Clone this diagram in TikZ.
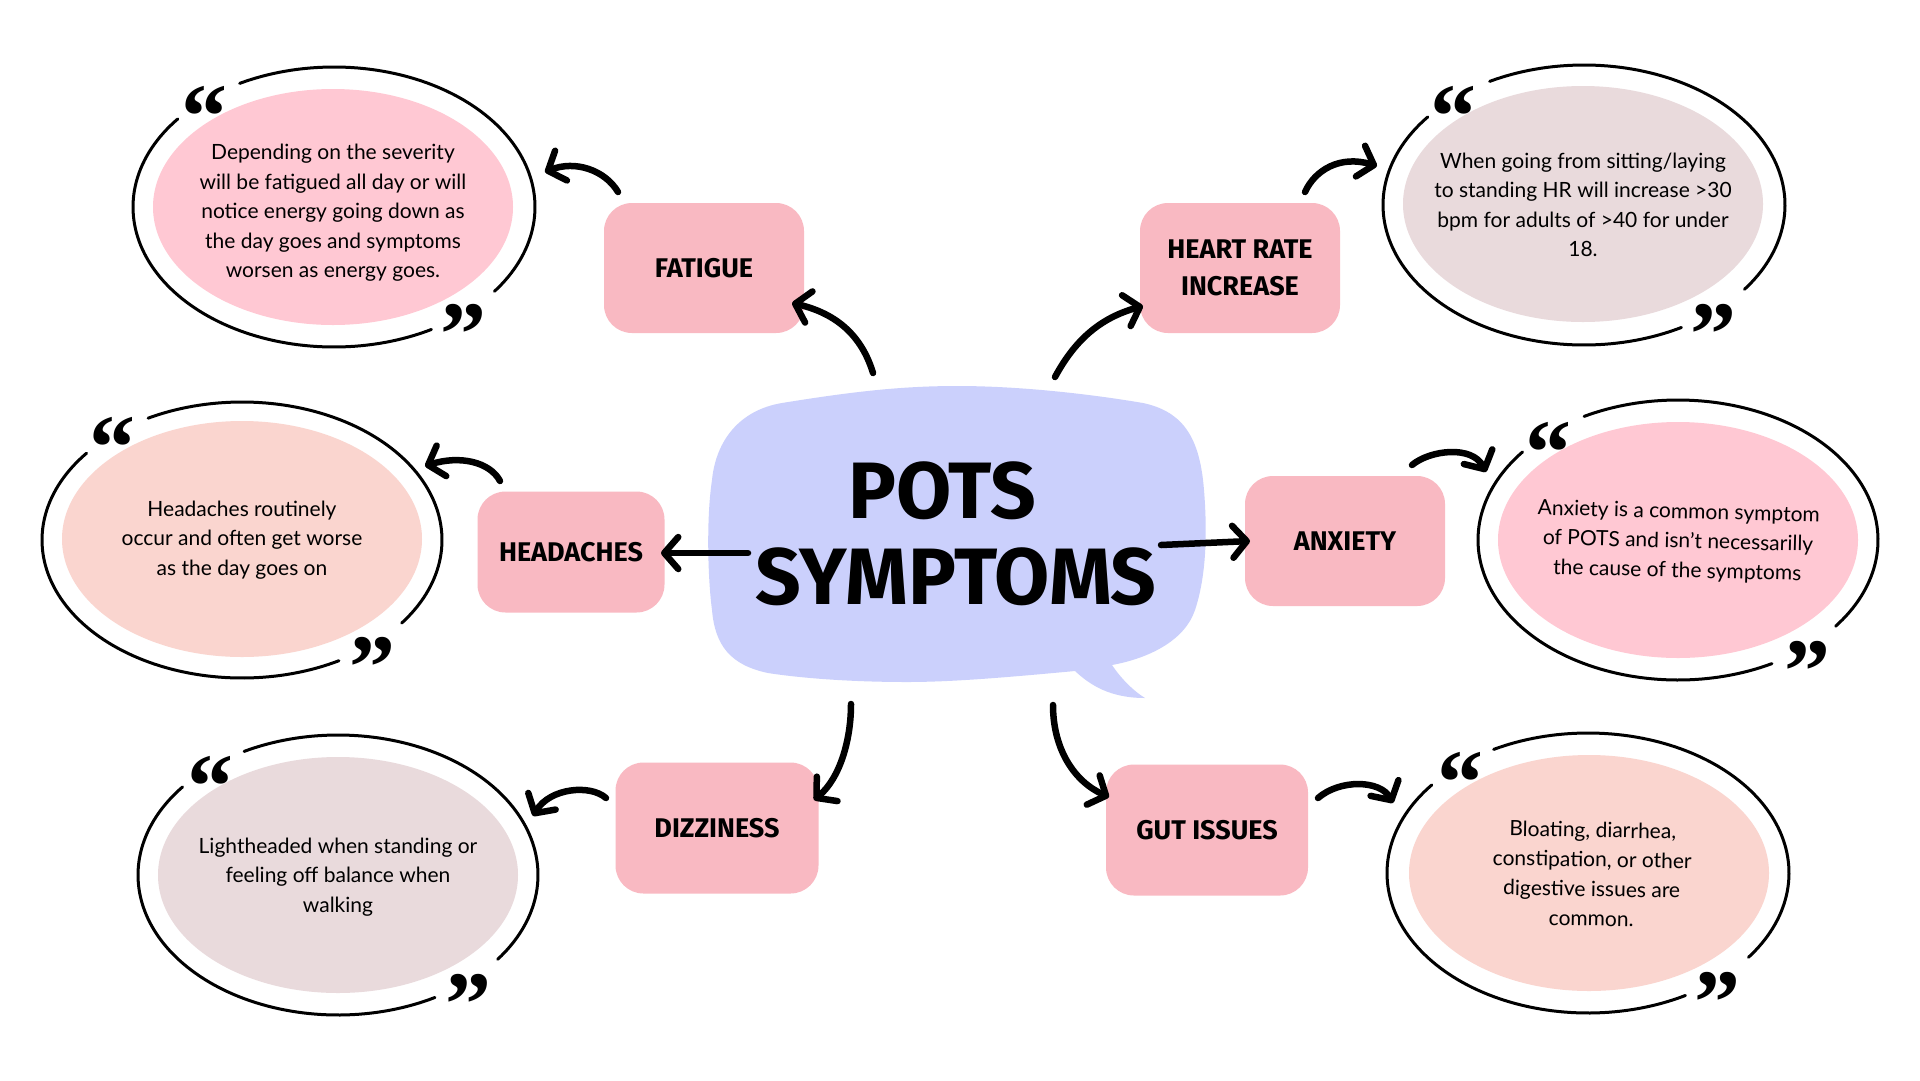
\documentclass[tikz,border=0pt]{standalone}
\usepackage{fontspec}
\setmainfont{Lato}
\newfontfamily\labelfont{Fira Sans}
\newfontfamily\quotefont{Liberation Serif}
\usetikzlibrary{arrows.meta,shapes.geometric}
\definecolor{bubble}{HTML}{CBD0FC}
\definecolor{boxpink}{HTML}{F9B9C2}
\definecolor{elpink}{HTML}{FFC8D3}
\definecolor{elgrey}{HTML}{E9DADC}
\definecolor{elpeach}{HTML}{FAD5CF}
\begin{document}
\begin{tikzpicture}[x=1pt,y=-1pt,
  bx/.style={fill=boxpink, rounded corners=28pt, inner sep=0pt, align=center,
    font=\labelfont\bfseries\fontsize{27}{37}\selectfont},
  fillell/.style={ellipse, inner sep=0pt, minimum width=360pt, minimum height=236pt},
  bodytext/.style={align=center, inner sep=0pt, font=\fontsize{21}{29.5}\selectfont},
  arr/.style={line width=6.5pt, line cap=round, line join=round,
    -{Straight Barb[length=14pt,width=32pt,round]}},
  ring/.style={line width=3pt, line cap=round},
  qmark/.style={font=\quotefont\bfseries\fontsize{92}{92}\selectfont, inner sep=0pt, anchor=base},
  title/.style={font=\labelfont\bfseries\fontsize{80}{80}\selectfont, inner sep=0pt}
]
\useasboundingbox[fill=white] (0,0) rectangle (1920,1080);

% ---------- central speech bubble ----------
\fill[bubble] (782,403) .. controls (850,392) and (900,386) .. (957,386)
  .. controls (1020,386) and (1090,394) .. (1143,403)
  .. controls (1185,412) and (1200,440) .. (1204,490)
  .. controls (1208,540) and (1205,580) .. (1195,610)
  .. controls (1185,640) and (1150,658) .. (1112,665)
  .. controls (1122,680) and (1135,692) .. (1145,698)
  .. controls (1110,698) and (1090,685) .. (1075,671)
  .. controls (1000,678) and (950,682) .. (907,682)
  .. controls (850,682) and (800,678) .. (768,673)
  .. controls (730,665) and (715,645) .. (712,610)
  .. controls (708,580) and (706,520) .. (712,480)
  .. controls (716,440) and (740,410) .. (782,403) -- cycle;
\node[title] (pots) at (942,491) {POTS};
\node[title] (symp) at (956,577) {SYMPTOMS};

% ---------- symptom boxes ----------
\node[bx, minimum width=200pt, minimum height=130pt] (fat) at (704,268) {FATIGUE};
\node[bx, minimum width=200pt, minimum height=130pt] (hr) at (1240,268) {HEART RATE\\INCREASE};
\node[bx, minimum width=200pt, minimum height=130pt] (anx) at (1345,541) {ANXIETY};
\node[bx, minimum width=187pt, minimum height=121pt] (head) at (571,552) {HEADACHES};
\node[bx, minimum width=203pt, minimum height=131pt] (diz) at (717,828) {DIZZINESS};
\node[bx, minimum width=202pt, minimum height=131pt] (gut) at (1207,830) {GUT ISSUES};

% ---------- description ellipses ----------
\node[fillell, fill=elpink] (fatE) at (333,207) {};
\node[bodytext] (fatT) at (333,213) {Depending on the severity\\will be fatigued all day or will\\notice energy going down as\\the day goes and symptoms\\worsen as energy goes.};
\draw[ring] plot[domain=-37:118, samples=90] ({334+201*cos(\x)},{207-140*sin(\x)});
\draw[ring] plot[domain=141:299, samples=90] ({334+201*cos(\x)},{207-140*sin(\x)});
\node[qmark] (fatQ1) at (204,147) {“};
\node[qmark] (fatQ2) at (463,365) {”};

\node[fillell, fill=elgrey] (hrE) at (1583,204) {};
\node[bodytext] (hrT) at (1583,205) {When going from sitting/laying\\to standing HR will increase >30\\bpm for adults of >40 for under\\18.};
\draw[ring] plot[domain=-37:118, samples=90] ({1584+201*cos(\x)},{205-140*sin(\x)});
\draw[ring] plot[domain=141:299, samples=90] ({1584+201*cos(\x)},{205-140*sin(\x)});
\node[qmark] (hrQ1) at (1453,147) {“};
\node[qmark] (hrQ2) at (1713,365) {”};

\node[fillell, fill=elpeach] (headE) at (242,539) {};
\node[bodytext] (headT) at (242,540) {Headaches routinely\\occur and often get worse\\as the day goes on};
\draw[ring] plot[domain=-37:118, samples=90] ({242+200*cos(\x)},{540-138*sin(\x)});
\draw[ring] plot[domain=141:299, samples=90] ({242+200*cos(\x)},{540-138*sin(\x)});
\node[qmark] (headQ1) at (112,478) {“};
\node[qmark] (headQ2) at (372,698) {”};

\node[fillell, fill=elpink] (anxE) at (1678,540) {};
\node[bodytext, rotate=-1.5] (anxT) at (1678,542) {Anxiety is a common symptom\\of POTS and isn’t necessarilly\\the cause of the symptoms};
\draw[ring] plot[domain=-38:118, samples=90] ({1678+200*cos(\x)},{540-140*sin(\x)});
\draw[ring] plot[domain=141:298, samples=90] ({1678+200*cos(\x)},{540-140*sin(\x)});
\node[qmark] (anxQ1) at (1548,483) {“};
\node[qmark] (anxQ2) at (1807,702) {”};

\node[fillell, fill=elgrey] (dizE) at (338,875) {};
\node[bodytext] (dizT) at (338,877) {Lightheaded when standing or\\feeling off balance when\\walking};
\draw[ring] plot[domain=-37:118, samples=90] ({338+200*cos(\x)},{875-140*sin(\x)});
\draw[ring] plot[domain=141:299, samples=90] ({338+200*cos(\x)},{875-140*sin(\x)});
\node[qmark] (dizQ1) at (210,817) {“};
\node[qmark] (dizQ2) at (468,1035) {”};

\node[fillell, fill=elpeach] (gutE) at (1589,873) {};
\node[bodytext, rotate=-1] (gutT) at (1592,874) {Bloating, diarrhea,\\constipation, or other\\digestive issues are\\common.};
\draw[ring] plot[domain=-37:118, samples=90] ({1588+201*cos(\x)},{873-140*sin(\x)});
\draw[ring] plot[domain=141:299, samples=90] ({1588+201*cos(\x)},{873-140*sin(\x)});
\node[qmark] (gutQ1) at (1460,813) {“};
\node[qmark] (gutQ2) at (1717,1033) {”};

% ---------- connector end points ----------
\coordinate (c1s) at (873,373);  \coordinate (c1e) at (792,303);
\coordinate (c2s) at (618,192);  \coordinate (c2e) at (545,172);
\coordinate (c3s) at (1055,377); \coordinate (c3e) at (1143,306);
\coordinate (c4s) at (1305,192); \coordinate (c4e) at (1377,166);
\coordinate (c5s) at (748,553);  \coordinate (c5e) at (661,553);
\coordinate (c6s) at (500,481);  \coordinate (c6e) at (425,466);
\coordinate (c7s) at (1161,545); \coordinate (c7e) at (1250,541);
\coordinate (c8s) at (1412,465); \coordinate (c8e) at (1486,472);
\coordinate (c9s) at (851,704);  \coordinate (c9e) at (814,800);
\coordinate (c10s) at (606,798); \coordinate (c10e) at (533,816);
\coordinate (c11s) at (1053,705);\coordinate (c11e) at (1109,797);
\coordinate (c12s) at (1318,798);\coordinate (c12e) at (1393,803);

% ---------- connectors ----------
\draw[arr] (c1s) .. controls (860,330) and (830,312) .. (c1e);
\draw[arr] (c2s) .. controls (605,170) and (575,160) .. (c2e);
\draw[arr] (c3s) .. controls (1075,340) and (1100,318) .. (c3e);
\draw[arr] (c4s) .. controls (1315,170) and (1340,155) .. (c4e);
\draw[arr] (c5s) -- (c5e);
\draw[arr] (c6s) .. controls (490,462) and (460,455) .. (c6e);
\draw[arr] (c7s) -- (c7e);
\draw[arr] (c8s) .. controls (1430,450) and (1472,445) .. (c8e);
\draw[arr] (c9s) .. controls (851,740) and (840,778) .. (c9e);
\draw[arr] (c10s) .. controls (590,784) and (550,788) .. (c10e);
\draw[arr] (c11s) .. controls (1053,750) and (1075,782) .. (c11e);
\draw[arr] (c12s) .. controls (1340,779) and (1380,780) .. (c12e);
\end{tikzpicture}
\end{document}
